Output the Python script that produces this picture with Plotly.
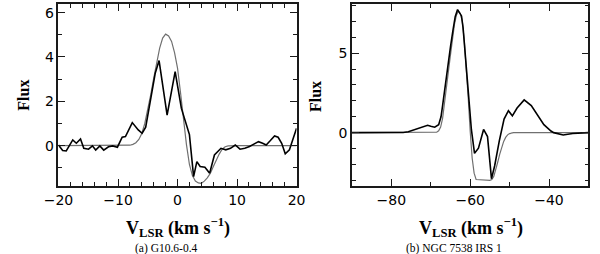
import plotly.graph_objects as go

# Panel (a) G10.6-0.4
va_obs = [-20, -19.3, -18.7, -17.6, -17.0, -16.3, -15.75, -14.95, -14.3, -13.75, -13.05, -12.4,
          -11.6, -10.9, -10.1, -9.3, -8.75, -7.6, -6.6, -5.95, -5.35, -4.45, -3.75, -3.1, -1.75,
          -0.4, 0.65, 2.0, 2.7, 3.25, 3.8, 4.6, 5.4, 6.2, 7.3, 8.1, 8.9, 9.7, 10.5, 11.3, 12.1,
          12.9, 13.6, 14.3, 14.9, 15.6, 16.3, 16.9, 17.5, 18.1, 18.8, 20]
fa_obs = [0.03, -0.22, -0.24, 0.26, 0.11, 0.3, -0.12, -0.16, -0.01, -0.2, -0.01, -0.2,
          -0.05, -0.01, -0.07, 0.38, 0.41, 1.04, 0.71, 0.56, 0.83, 2.21, 3.26, 3.84, 1.38,
          3.34, 1.68, 0.5, -1.4, -0.72, -0.94, -0.97, -1.24, -0.42, -0.12, -0.19, -0.12, 0.03,
          -0.16, -0.12, -0.04, 0.08, 0.18, 0.11, 0.03, 0.23, 0.44, 0.38, 0.11, -0.37, -0.19, 0.78]

va_model = [-20, -15, -10, -9, -8, -7.5, -7, -6.5, -6, -5.5, -5, -4.5, -4, -3.5, -3, -2.5, -2,
            -1.5, -1, -0.5, 0, 0.5, 1, 1.5, 2, 2.5, 3, 3.5, 4, 4.5, 5, 5.5, 6, 6.5, 7, 7.5, 8,
            8.5, 9, 10, 15, 20]
fa_model = [0, 0, 0, 0.005, 0.02, 0.06, 0.13, 0.28, 0.55, 1.0, 1.6, 2.3, 3.05, 3.8, 4.4, 4.85,
            5.03, 4.95, 4.7, 4.2, 3.5, 2.4, 1.2, 0.05, -0.85, -1.35, -1.6, -1.68, -1.7, -1.6,
            -1.45, -1.25, -0.95, -0.65, -0.38, -0.16, -0.05, -0.01, 0, 0, 0, 0]

# Panel (b) NGC 7538 IRS 1
vb_obs = [-90, -80, -77, -75.7, -73.25, -71.5, -70.8, -70, -69, -68, -67.4, -67, -66.5, -66,
          -65.5, -65, -64.4, -63.8, -63.2, -62.6, -62.2, -61.8, -61.4, -60.9, -60.3, -59.7,
          -58.9, -57.9, -56.6, -55.6, -54.6, -53.8, -52.6, -51.4, -50.3, -49.3, -48.1, -46.3,
          -44.5, -42.5, -41.3, -39.5, -38.8, -36.4, -34, -30]
fb_obs = [0, 0, 0.01, 0.06, 0.28, 0.4, 0.46, 0.4, 0.34, 0.5, 1.0, 1.7, 2.7, 3.6,
          4.5, 5.4, 6.4, 7.3, 7.75, 7.5, 7.35, 6.6, 5.4, 4.1, 2.1, 0.2,
          -1.3, -0.98, 0.2, -0.25, -2.9, -2.1, -0.5, 0.85, 1.38, 1.06, 1.55, 2.06,
          1.7, 0.95, 0.5, 0.1, 0.0, -0.15, -0.05, 0]

vb_model = [-90, -75, -70, -69, -68.5, -68, -67.5, -67, -66.5, -66, -65.5, -65, -64.5, -64,
            -63.5, -63, -62.5, -62, -61.5, -61, -60.5, -60, -59.5, -59, -58.5, -55, -54.5, -54,
            -53.5, -53, -52.5, -52, -51.5, -51, -50.5, -50, -49.5, -49, -45, -30]
fb_model = [0, 0, 0, 0.005, 0.03, 0.12, 0.35, 0.9, 1.8, 2.9, 3.9, 4.9, 5.9, 6.8,
            7.4, 7.65, 7.5, 7.0, 5.8, 4.2, 2.2, 0.1, -1.6, -2.55, -2.95, -3.0, -2.95, -2.75,
            -2.35, -1.85, -1.35, -0.9, -0.55, -0.3, -0.14, -0.06, -0.02, 0, 0, 0]

captions = ["(a) G10.6-0.4", "(b) NGC 7538 IRS 1"]

W, H = 600, 254
GRAY = "#707070"
AX = "#1a1a1a"

fig = go.Figure()
fig.add_trace(go.Scatter(x=va_model, y=fa_model, mode="lines",
                         line=dict(color=GRAY, width=1.2), xaxis="x", yaxis="y"))
fig.add_trace(go.Scatter(x=va_obs, y=fa_obs, mode="lines",
                         line=dict(color="black", width=1.6), xaxis="x", yaxis="y"))
fig.add_trace(go.Scatter(x=vb_model, y=fb_model, mode="lines",
                         line=dict(color=GRAY, width=1.2), xaxis="x2", yaxis="y2"))
fig.add_trace(go.Scatter(x=vb_obs, y=fb_obs, mode="lines",
                         line=dict(color="black", width=1.6), xaxis="x2", yaxis="y2"))

tickfont = dict(family="DejaVu Sans, Arial, sans-serif", size=14, color="black")


def axis(domain, rng, dtick, mdtick, anchor, showlabels=True):
    return dict(domain=domain, range=rng, anchor=anchor, dtick=dtick, tick0=0,
                ticks="inside", ticklen=7, tickwidth=1.2, tickcolor=AX,
                showline=True, linecolor=AX, linewidth=1.6, mirror="allticks",
                showgrid=False, zeroline=False, tickfont=tickfont,
                showticklabels=showlabels,
                minor=dict(ticks="inside", ticklen=4, dtick=mdtick, tick0=0,
                           tickcolor=AX, tickwidth=1.2, showgrid=False))


ybot = (H - 186) / H
ytop = (H - 4) / H

fig.update_layout(
    width=W, height=H,
    margin=dict(l=0, r=0, t=0, b=0),
    paper_bgcolor="white", plot_bgcolor="white",
    showlegend=False,
    xaxis=axis([45.3 / W, 293.3 / W], [-20, 20], 10, 2, "y"),
    yaxis=axis([ybot, ytop], [-1.82, 6.39], 2, 1, "x"),
    xaxis2=axis([351 / W, 597.3 / W], [-90, -30], 20, 10, "y2"),
    yaxis2=axis([ybot, ytop], [-3.36, 8.1], 5, 1, "x2"),
)

serif = "Liberation Serif, Times New Roman, serif"
ann = []
for cx in [170 / W, 474.5 / W]:
    ann.append(dict(x=cx, y=(H - 227) / H, xref="paper", yref="paper",
                    text="<b>V<sub>LSR</sub> (km s<sup>−1</sup>)</b>", showarrow=False,
                    font=dict(family=serif, size=18, color="black"),
                    xanchor="center", yanchor="middle"))
for cx, cy in [(8 / W, (H - 95) / H), (312.5 / W, (H - 97) / H)]:
    ann.append(dict(x=cx, y=cy, xref="paper", yref="paper", text="<b>Flux</b>",
                    textangle=-90, showarrow=False,
                    font=dict(family=serif, size=16, color="black"),
                    xanchor="center", yanchor="middle"))
for cx, txt in zip([158 / W, 457.5 / W], captions):
    ann.append(dict(x=cx, y=(H - 248.5) / H, xref="paper", yref="paper", text=txt,
                    showarrow=False, font=dict(family=serif, size=11.5, color="black"),
                    xanchor="center", yanchor="middle"))
fig.update_layout(annotations=ann)

fig.write_html("out.html", config={"displayModeBar": False},
               post_script="document.body.style.margin='0';document.body.style.padding='0';")
